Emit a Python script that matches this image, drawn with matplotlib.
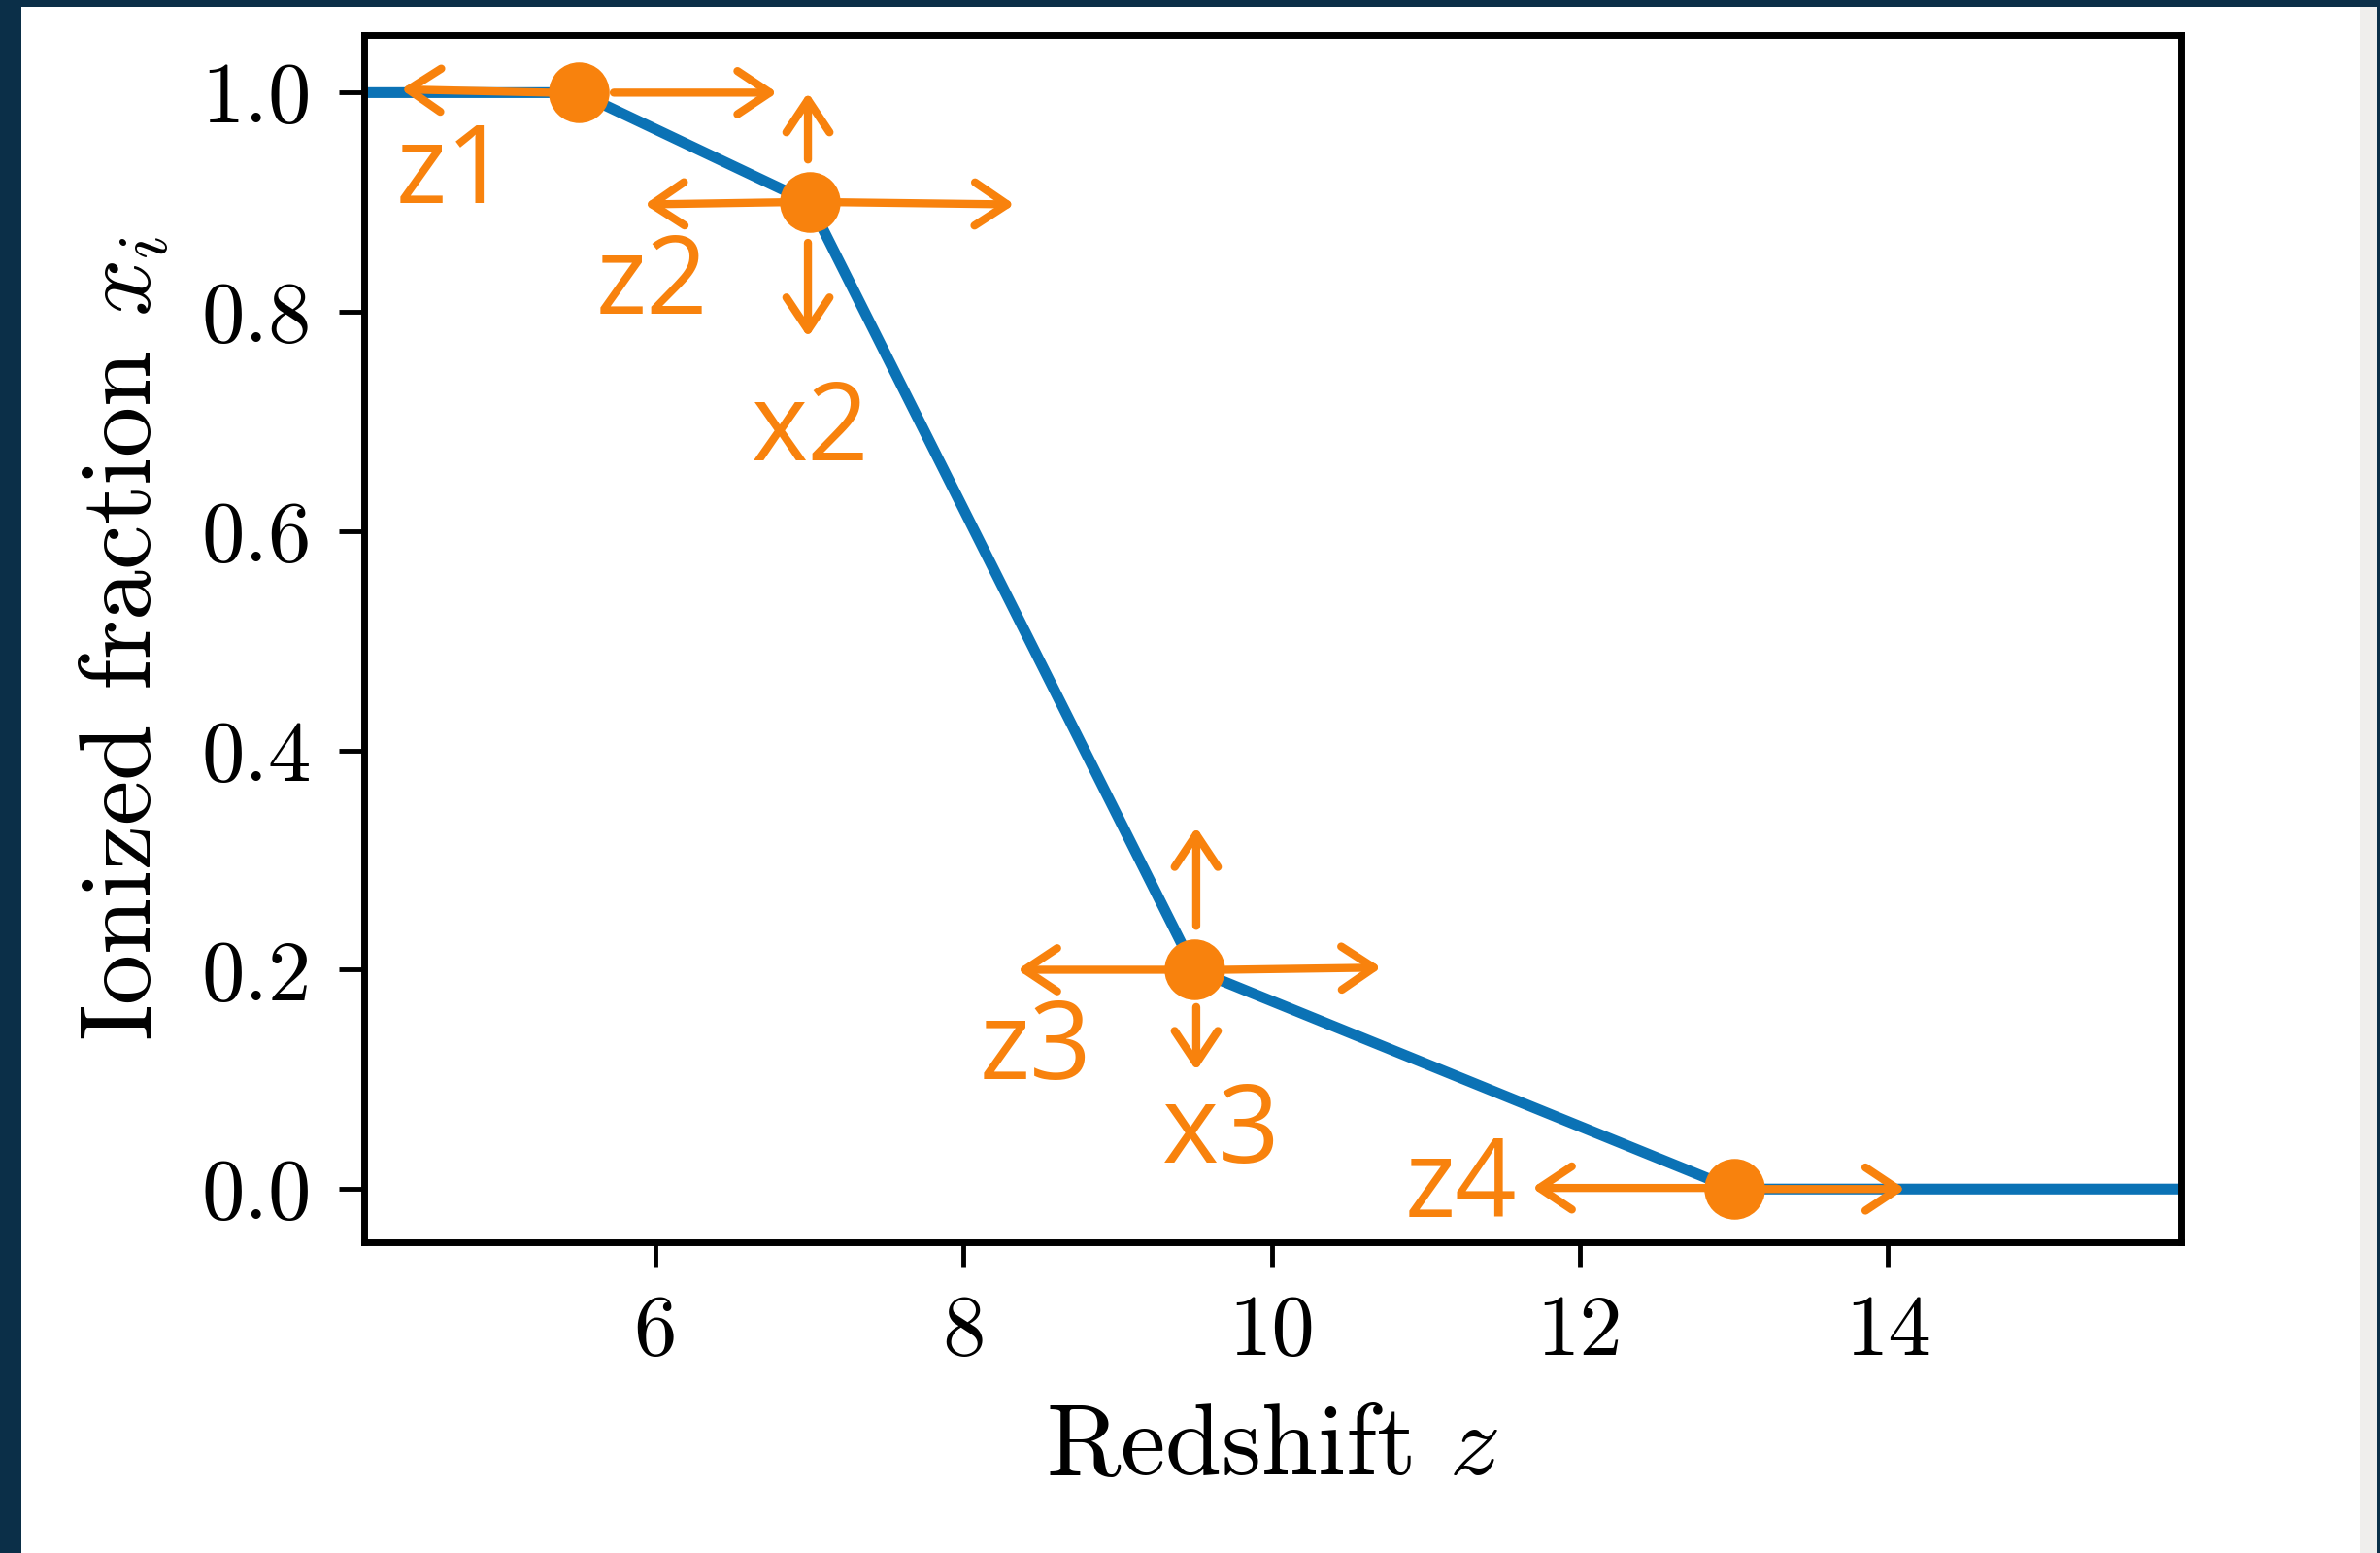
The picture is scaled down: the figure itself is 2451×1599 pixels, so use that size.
import matplotlib
matplotlib.use("Agg")
import matplotlib.pyplot as plt
from matplotlib.patches import Rectangle

plt.rcParams['font.family'] = 'serif'
plt.rcParams['font.serif'] = ['cmr10']
plt.rcParams['mathtext.fontset'] = 'cm'
plt.rcParams['axes.formatter.use_mathtext'] = True

# reionization history: piecewise linear through 4 nodes
line_z = [4.11, 5.5, 7.0, 9.5, 13.0, 15.9]
line_x = [1.0, 1.0, 0.9, 0.2, 0.0, 0.0]
node_z = [5.5, 7.0, 9.5, 13.0]
node_x = [1.0, 0.9, 0.2, 0.0]

x_ticks = [6, 8, 10, 12, 14]
y_ticks = [0.0, 0.2, 0.4, 0.6, 0.8, 1.0]

# hand drawn labels and arrows (data coords)
labels = ['z1', 'z2', 'x2', 'z3', 'x3', 'z4']
label_z = [4.68, 5.98, 7.01, 8.47, 9.67, 11.23]
label_x = [0.925, 0.824, 0.69, 0.126, 0.05, 0.0]
# (tail_z, tail_x, head_z, head_x)
arrows = [
    (5.32, 1.0, 4.35, 1.003), (5.73, 1.0, 6.79, 1.0),
    (6.82, 0.9, 5.93, 0.898), (7.2, 0.9, 8.33, 0.898),
    (6.99, 0.939, 6.99, 1.0), (6.99, 0.863, 6.99, 0.777),
    (9.33, 0.2, 8.35, 0.2), (9.70, 0.2, 10.71, 0.202),
    (9.51, 0.24, 9.51, 0.33), (9.51, 0.166, 9.51, 0.108),
    (12.83, 0.001, 11.69, 0.001), (13.17, 0.0, 14.11, 0.0),
]

blue = '#0b72b5'
orange = '#f8820d'

fig = plt.figure(figsize=(24.51, 15.99), dpi=100, facecolor='#0b2f48')
fig.patches.append(Rectangle((22 / 2451, 0), (2430 - 22) / 2451, 1 - 7 / 1599,
                             transform=fig.transFigure, facecolor='white',
                             edgecolor='none', zorder=-2))
fig.patches.append(Rectangle((2430 / 2451, 0), 18 / 2451, 1 - 7 / 1599,
                             transform=fig.transFigure, facecolor='#efeeec',
                             edgecolor='none', zorder=-2))

ax = fig.add_axes([375 / 2451, 1 - 1279 / 1599, (2246 - 375) / 2451, (1279 - 36) / 1599])
ax.set_facecolor('white')

ax.plot(line_z, line_x, color=blue, lw=8, zorder=2, solid_capstyle='butt')
ax.plot(node_z, node_x, 'o', color=orange, ms=44, zorder=4)

for tz, tx, hz, hx in arrows:
    ax.annotate('', xy=(hz, hx), xytext=(tz, tx),
                arrowprops=dict(arrowstyle='->,head_length=0.75,head_width=0.5',
                                color=orange, lw=6, mutation_scale=32,
                                shrinkA=0, shrinkB=0, capstyle='round',
                                joinstyle='round'),
                zorder=3)

for s, lz, lx in zip(labels, label_z, label_x):
    ax.text(lz, lx, s, color=orange, fontsize=80, family='Open Sans',
            ha='center', va='center', zorder=5)

ax.set_xlim(4.11, 15.9)
ax.set_ylim(-0.0485, 1.0526)
ax.set_xticks(x_ticks)
ax.set_yticks(y_ticks)
ax.set_xticklabels([str(t) for t in x_ticks])
ax.set_yticklabels(['%.1f' % t for t in y_ticks])
ax.tick_params(labelsize=64, width=3.5, length=19, pad=20)
for sp in ax.spines.values():
    sp.set_linewidth(5)

ax.set_xlabel('Redshift $z$', fontsize=75, labelpad=24)
ax.set_ylabel('Ionized fraction $x_i$', fontsize=75, labelpad=22)

fig.savefig('out.png', dpi=100, facecolor=fig.get_facecolor())
